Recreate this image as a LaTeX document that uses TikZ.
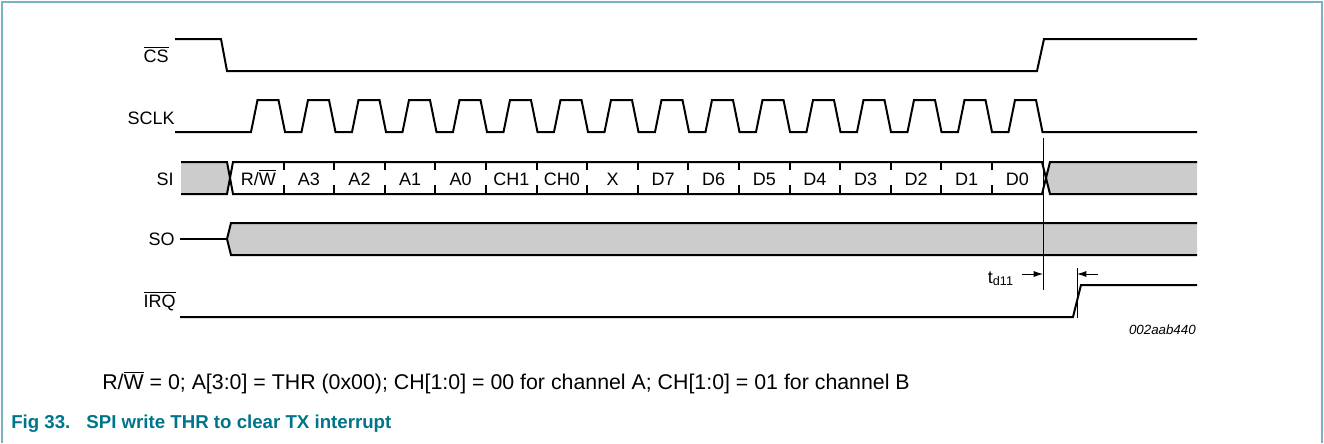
\documentclass[tikz,border=0pt]{standalone}
\usepackage{fontspec}
\setmainfont{Liberation Sans}
\usetikzlibrary{arrows.meta}

\definecolor{figteal}{RGB}{0,116,138}
\definecolor{framecol}{RGB}{122,180,196}
\newcommand{\ovl}[1]{\ensuremath{\overline{\mbox{#1}}}}

\begin{document}
\begin{tikzpicture}[x=0.75pt,y=-0.75pt,
		wave/.style={line width=1.5pt},
		busfill/.style={fill=black!20},
		marker/.style={line width=0.6pt},
		tip/.style={marker, -{Latex[length=7pt,width=4.5pt]}},
		sig/.style={font=\fontsize{13.5}{16}\selectfont, anchor=base east, inner sep=0pt},
		cell/.style={font=\fontsize{13.5}{16}\selectfont, anchor=base, inner sep=0pt},
		note/.style={font=\fontsize{16}{19}\selectfont, anchor=base west, inner sep=0pt},
		caption/.style={font=\fontsize{14}{17}\selectfont\bfseries, text=figteal, anchor=base west, inner sep=0pt}
		]
		
		\useasboundingbox (0,0) rectangle (1324,443);
		
		% -------------------------------------------------
		% Frame
		% -------------------------------------------------
		\draw[framecol, line width=1.5pt] (2,443) -- (2,2) -- (1322,2) -- (1322,443);
		
		% -------------------------------------------------
		% Signal names
		% -------------------------------------------------
		\node[sig] (lcs) at (169,62) {\ovl{CS}};
		\node[sig] (lsclk) at (175,124) {SCLK};
		\node[sig] (lsi) at (174,185) {SI};
		\node[sig] (lso) at (175,245.5) {SO};
		\node[sig] (lirq) at (176,307) {\ovl{IRQ}};
		
		% -------------------------------------------------
		% CS and SCLK
		% -------------------------------------------------
		\draw[wave] (175,39) -- (221,39) -- (227,71) -- (1037,71) -- (1044,39) -- (1197,39);
		
		\draw[wave] (175,132) -- (251,132)
		\foreach \i in {0,...,15}{ -- ++(6.5,-32) -- ++(21,0) -- ++(6.5,32) -- ++(16.5,0) }
		-- (1197,132);
		
		% -------------------------------------------------
		% SI
		% -------------------------------------------------
		\path[busfill] (181,162) -- (227,162) -- (230,178) -- (227,194) -- (181,194) -- cycle;
		\path[busfill] (1046,178) -- (1050,162) -- (1197,162) -- (1197,194) -- (1050,194) -- cycle;
		\draw[wave] (181,162) -- (227,162) -- (233,194) -- (1042,194) -- (1050,162) -- (1197,162);
		\draw[wave] (181,194) -- (227,194) -- (233,162) -- (1042,162) -- (1050,194) -- (1197,194);
		
		\foreach \k in {1,...,15}{
			\draw[wave] (233+50.6*\k,162) -- ++(0,8);
			\draw[wave] (233+50.6*\k,194) -- ++(0,-9);
		}
		
		\foreach \lab [count=\k from 0] in {{R/\ovl{W}},A3,A2,A1,A0,CH1,CH0,X,D7,D6,D5,D4,D3,D2,D1,D0}
		\node[cell] (bit\k) at (233+50.6*\k+25.3,185) {\lab};
		
		% -------------------------------------------------
		% SO
		% -------------------------------------------------
		\draw[wave] (180,239) -- (227,239);
		\path[busfill] (227,239) -- (231,223) -- (1197,223) -- (1197,255) -- (231,255) -- cycle;
		\draw[wave] (1197,223) -- (231,223) -- (227,239) -- (231,255) -- (1197,255);
		
		% -------------------------------------------------
		% IRQ and td11
		% -------------------------------------------------
		\draw[wave] (180,317) -- (1073,317) -- (1081,285) -- (1197,285);
		
		\draw[marker] (1043,138) -- (1043,290);
		\draw[marker] (1077,268) -- (1077,318);
		\coordinate (ta) at (1043,274);
		\coordinate (tb) at (1077,274);
		\coordinate (tafrom) at (1022,274);
		\coordinate (tbfrom) at (1098,274);
		\draw[tip] (tafrom) -- (ta);
		\draw[tip] (tbfrom) -- (tb);
		\node[anchor=base east, inner sep=0pt, font=\fontsize{13.5}{16}\selectfont] (td) at (1014,283) {t\textsubscript{d11}};
		
		\node[anchor=base east, inner sep=0pt, font=\fontsize{10}{12}\selectfont\itshape] (fignum) at (1196,334) {002aab440};
		
		% -------------------------------------------------
		% Notes
		% -------------------------------------------------
		\node[note] (legend) at (102,389) {R/\ovl{W} = 0; A[3:0] = THR (0x00); CH[1:0] = 00 for channel A; CH[1:0] = 01 for channel B};
		\node[caption] (title) at (11,428) {Fig 33.\hspace{12pt}SPI write THR to clear TX interrupt};
		
	\end{tikzpicture}
\end{document}
